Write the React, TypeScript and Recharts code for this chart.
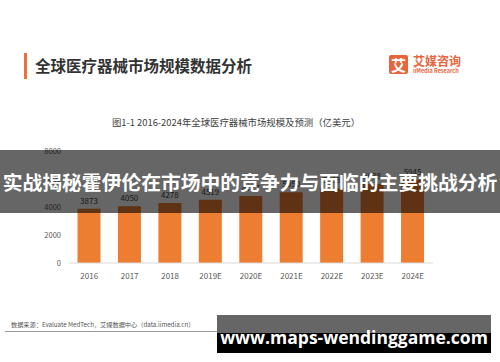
import React from "react";
import { BarChart, Bar, XAxis, YAxis, LabelList } from "recharts";

const years = ["2016", "2017", "2018", "2019E", "2020E", "2021E", "2022E", "2023E", "2024E"];
const marketSize = [3873, 4050, 4278, 4519, 4777, 5050, 5338, 5638, 5945];
const yTicks = [0, 2000, 4000, 6000, 8000];

const ORANGE = "#ed7d31";
const CJK = '"Noto Sans CJK SC", "Noto Sans", sans-serif';

const data = years.map((y, i) => ({ year: y, value: marketSize[i] }));

export default function App() {
  return (
    <div style={{ position: "absolute", left: 0, top: 0, width: 500, height: 362, background: "#fff", overflow: "hidden", fontFamily: CJK }}>
      {/* header */}
      <div style={{ position: "absolute", left: 24, top: 53, width: 3, height: 26, background: "#f0703a" }} />
      <div style={{ position: "absolute", left: 35, top: 55, fontSize: 15.5, lineHeight: "20px", fontWeight: 600, color: "#333" }}>
        全球医疗器械市场规模数据分析
      </div>

      {/* logo */}
      <div style={{ position: "absolute", left: 389, top: 55, width: 19, height: 19, background: "#e8643c", borderRadius: 2, color: "#fff", fontSize: 15, lineHeight: "19px", textAlign: "center", fontWeight: 700 }}>
        艾
      </div>
      <div style={{ position: "absolute", left: 413, top: 54, fontSize: 12, lineHeight: "14px", fontWeight: 700, color: "#e8643c" }}>艾媒咨询</div>
      <div style={{ position: "absolute", left: 413, top: 68, fontSize: 5.5, lineHeight: "7px", color: "#e8643c", fontWeight: 600 }}>iiMedia Research</div>

      {/* subtitle */}
      <div style={{ position: "absolute", left: 0, width: 472, top: 116, textAlign: "center", fontSize: 9.4, lineHeight: "12px", color: "#404040" }}>
        图1-1 2016-2024年全球医疗器械市场规模及预测（亿美元）
      </div>

      <div style={{ position: "absolute", left: 0, top: 0 }}>
        <BarChart width={500} height={362} data={data} margin={{ top: 151, right: 67, bottom: 69, left: 29 }} barCategoryGap="21%">
          <XAxis
            dataKey="year"
            height={30}
            axisLine={{ stroke: "#d9d9d9" }}
            tickLine={false}
            tickMargin={4}
            tick={{ fontSize: 8, fill: "#595959", fontFamily: CJK }}
            interval={0}
          />
          <YAxis
            width={40}
            domain={[0, 8000]}
            ticks={yTicks}
            axisLine={false}
            tickLine={false}
            tick={{ fontSize: 7.5, fill: "#595959", fontFamily: CJK }}
          />
          <Bar dataKey="value" fill={ORANGE} isAnimationActive={false}>
            <LabelList dataKey="value" position="top" offset={5} style={{ fontSize: 8, fill: "#404040", fontFamily: CJK }} />
          </Bar>
        </BarChart>
      </div>

      {/* source */}
      <div style={{ position: "absolute", left: 11, top: 321, fontSize: 6.2, lineHeight: "8px", color: "#555", whiteSpace: "nowrap" }}>
        数据来源：Evaluate MedTech，艾媒数据中心（data.iimedia.cn）
      </div>
      <div style={{ position: "absolute", left: 5, top: 331, width: 212, height: 1, background: "#9a9a9a" }} />

      {/* overlay headline */}
      <div style={{ position: "absolute", left: 0, top: 150, width: 500, height: 63, background: "rgba(0,0,0,0.6)", color: "#fff", fontSize: 19.8, fontWeight: 700, lineHeight: "63px", textAlign: "center", whiteSpace: "nowrap" }}>
        实战揭秘霍伊伦在市场中的竞争力与面临的主要挑战分析
      </div>

      {/* watermark */}
      <div style={{ position: "absolute", left: 217, top: 315, width: 274, height: 38, background: "#000" }}>
        <div style={{ position: "absolute", left: 0, top: 0, width: 274, height: 18, background: "#666" }} />
        <div style={{ position: "absolute", left: 0, top: 9, width: 274, height: 26, lineHeight: "26px", textAlign: "center", color: "#fff", fontSize: 17.5, fontWeight: 700, fontFamily: '"Open Sans", "Noto Sans", sans-serif' }}>
          www.maps-wendinggame.com
        </div>
      </div>
    </div>
  );
}
